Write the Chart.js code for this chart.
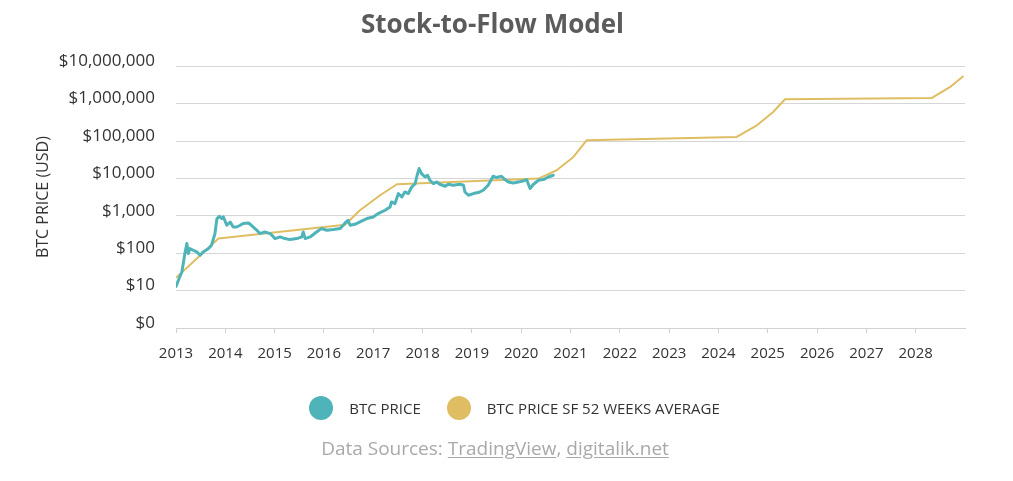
<!DOCTYPE html>
<html>
<head>
<meta charset="utf-8">
<script src="https://cdn.jsdelivr.net/npm/chart.js@4.4.1/dist/chart.umd.min.js"></script>
<style>
  html, body { margin: 0; padding: 0; background: #ffffff; }
  #wrap { position: relative; width: 1013px; height: 481px; overflow: hidden; }
  #c { position: absolute; left: 0; top: 0; }
  #legend { position: absolute; left: 16px; width: 997px; top: 396px; height: 24px;
            display: flex; justify-content: center; align-items: center;
            font-family: 'Open Sans', sans-serif; font-size: 15px; color: #333; }
  .item { display: flex; align-items: center; }
  .item + .item { margin-left: 26px; }
  .dot { width: 24px; height: 24px; border-radius: 50%; margin-right: 16px; }
  #source { position: absolute; left: 0; width: 990px; top: 435px; text-align: center;
            font-family: 'Open Sans', sans-serif; font-size: 19px; color: #a9a9a9; }
  #source u { text-decoration: underline; text-underline-offset: 2px; }
</style>
</head>
<body>
<div id="wrap">
  <canvas id="c" width="1013" height="481"></canvas>
  <div id="legend"></div>
  <div id="source">Data Sources: <u>TradingView</u>, <u>digitalik.net</u></div>
</div>
<script>
// ---- data ----
const btcYears = [
  2013.00, 2013.05, 2013.12, 2013.18, 2013.22, 2013.25, 2013.28, 2013.35, 2013.42, 2013.49,
  2013.55, 2013.66, 2013.72, 2013.79, 2013.83, 2013.88, 2013.93, 2013.96, 2014.03, 2014.10,
  2014.16, 2014.23, 2014.30, 2014.36, 2014.47, 2014.53, 2014.64, 2014.70, 2014.80, 2014.91,
  2015.01, 2015.11, 2015.21, 2015.31, 2015.45, 2015.55, 2015.58, 2015.62, 2015.72, 2015.85,
  2015.95, 2016.06, 2016.19, 2016.33, 2016.43, 2016.49, 2016.53, 2016.63, 2016.73, 2016.87,
  2017.00, 2017.10, 2017.17, 2017.24, 2017.34, 2017.37, 2017.44, 2017.51, 2017.58, 2017.64,
  2017.71, 2017.78, 2017.85, 2017.89, 2017.93, 2017.98, 2018.05, 2018.10, 2018.15, 2018.22,
  2018.29, 2018.35, 2018.46, 2018.52, 2018.62, 2018.76, 2018.83, 2018.86, 2018.93, 2019.03,
  2019.13, 2019.23, 2019.33, 2019.43, 2019.50, 2019.60, 2019.67, 2019.74, 2019.84, 2019.94,
  2020.04, 2020.11, 2020.18, 2020.25, 2020.35, 2020.45, 2020.55, 2020.65
];
const btcPrices = [
  13, 19, 32, 98, 181, 98, 133, 120, 108, 88,
  108, 133, 163, 335, 843, 971, 843, 931, 558, 684,
  502, 502, 558, 620, 643, 558, 410, 335, 370, 335,
  246, 272, 246, 231, 246, 272, 370, 246, 272, 370,
  455, 410, 428, 455, 643, 759, 558, 593, 684, 843,
  931, 1148, 1266, 1406, 1722, 2344, 2124, 3935, 3190, 4338,
  3935, 5903, 7278, 12130, 18330, 13460, 10920, 12130, 8918, 7278,
  8035, 6970, 6166, 6970, 6556, 6970, 6556, 4338, 3540, 3935,
  4182, 4819, 6556, 11400, 10530, 11400, 9310, 8035, 7550, 8035,
  8550, 9310, 5350, 6970, 8918, 9310, 10920, 12130
];
const sfYears = [2013.00, 2013.86, 2016.43, 2016.73, 2017.14, 2017.48, 2020.35, 2020.72, 2021.06,
                 2021.33, 2024.37, 2024.78, 2025.11, 2025.35, 2028.33, 2028.70, 2028.97];
const sfPrices = [22, 246, 575, 1406, 3540, 6970, 9900, 16500, 37400,
                  105000, 128000, 263000, 598000, 1309000, 1416000, 2793000, 5500000];

const seriesNames = ['BTC PRICE', 'BTC PRICE SF 52 WEEKS AVERAGE'];
const yearTicks = [2013, 2014, 2015, 2016, 2017, 2018, 2019, 2020, 2021, 2022, 2023, 2024, 2025, 2026, 2027, 2028];
const yearLabels = yearTicks.map(String);
const yTickValues = [1, 10, 100, 1000, 10000, 100000, 1000000, 10000000];
const yTickLabels = ['$0', '$10', '$100', '$1,000', '$10,000', '$100,000', '$1,000,000', '$10,000,000'];

const COLORS = ['#4fb4b9', '#dfbd62'];
const FONT = 'Open Sans';

const ds = [
  {
    label: seriesNames[0],
    data: btcYears.map((x, i) => ({ x: x, y: btcPrices[i] })),
    borderColor: COLORS[0], backgroundColor: COLORS[0],
    borderWidth: 3, pointRadius: 0, tension: 0, borderJoinStyle: 'round', borderCapStyle: 'round'
  },
  {
    label: seriesNames[1],
    data: sfYears.map((x, i) => ({ x: x, y: sfPrices[i] })),
    borderColor: COLORS[1], backgroundColor: COLORS[1],
    borderWidth: 2, pointRadius: 0, tension: 0, borderJoinStyle: 'round'
  }
];

const chart = new Chart(document.getElementById('c'), {
  type: 'line',
  data: { datasets: ds },
  options: {
    responsive: false,
    animation: false,
    devicePixelRatio: 1,
    layout: { padding: { left: 20, right: 48, top: 0, bottom: 113 } },
    plugins: {
      legend: { display: false },
      tooltip: { enabled: false },
      title: {
        display: true, text: 'Stock-to-Flow Model', color: '#5b5b5b',
        font: { family: FONT, size: 26, weight: 'bold' },
        padding: { top: 10, bottom: 25 }
      }
    },
    scales: {
      x: {
        type: 'linear', min: 2013, max: 2029,
        afterBuildTicks: (s) => { s.ticks = yearTicks.map(v => ({ value: v })); },
        afterFit: (s) => { s.height = 40; },
        ticks: {
          autoSkip: false, maxRotation: 0, padding: 12, color: '#333',
          font: { family: FONT, size: 15 },
          callback: (v, i) => yearLabels[i]
        },
        grid: { display: true, drawOnChartArea: false, drawTicks: true, tickLength: 5, color: '#cfcfcf' },
        border: { display: true, color: '#d2d2d2' }
      },
      y: {
        type: 'logarithmic', min: 1, max: 10000000,
        afterBuildTicks: (s) => { s.ticks = yTickValues.map(v => ({ value: v })); },
        afterFit: (s) => { s.width = 156; },
        ticks: {
          padding: 21, color: '#333', labelOffset: -5,
          font: { family: FONT, size: 17 },
          callback: (v, i) => yTickLabels[i]
        },
        grid: { color: '#d6d6d6', drawTicks: false },
        border: { display: false },
        title: {
          display: true, text: 'BTC PRICE (USD)', color: '#333',
          font: { family: FONT, size: 16 }, padding: { top: 14, bottom: 0 }
        }
      }
    }
  }
});

// legend built from the datasets
const legendEl = document.getElementById('legend');
chart.data.datasets.forEach(d => {
  const item = document.createElement('div'); item.className = 'item';
  const dot = document.createElement('span'); dot.className = 'dot'; dot.style.background = d.borderColor;
  const txt = document.createElement('span'); txt.textContent = d.label;
  item.appendChild(dot); item.appendChild(txt); legendEl.appendChild(item);
});
</script>
</body>
</html>
